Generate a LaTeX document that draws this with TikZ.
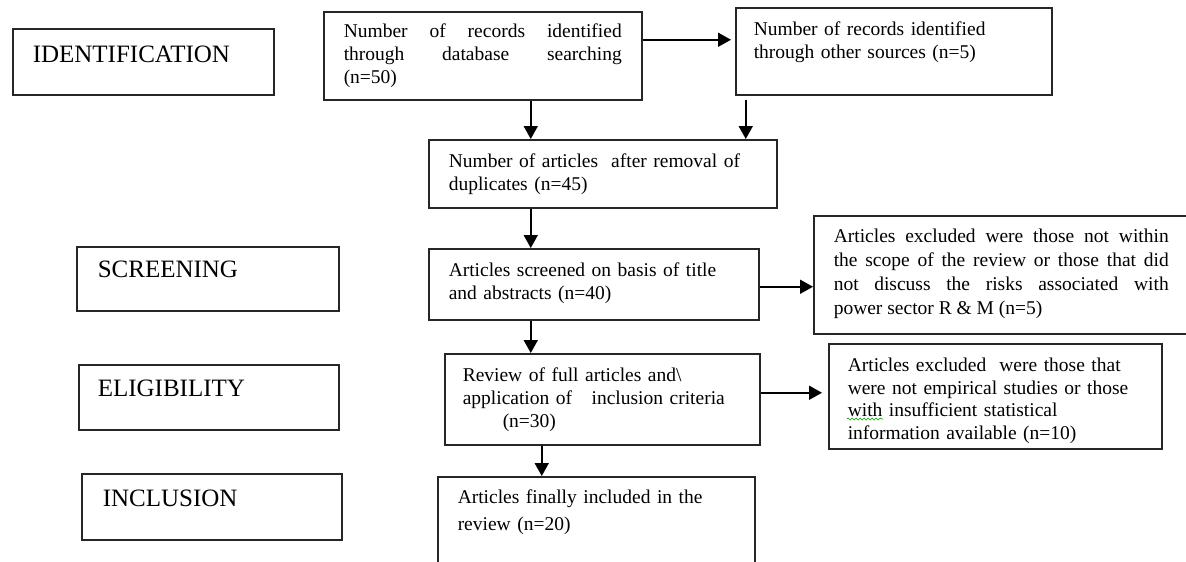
\documentclass[tikz,border=0pt]{standalone}
\usepackage{fontspec}
\setmainfont{Liberation Serif}
\usetikzlibrary{arrows.meta,decorations.pathmorphing}
\newcommand\bodyfont{\fontsize{19.5pt}{23pt}\selectfont}
\newcommand\headfont{\fontsize{25pt}{30pt}\selectfont}
\begin{document}
\begin{tikzpicture}[x=1pt,y=-1pt,
	box/.style={draw=black!85,line width=1.5pt,anchor=north west,inner ysep=0pt,inner xsep=20pt,align=left,font=\bodyfont},
	head/.style={box,font=\headfont},
	arr/.style={line width=1.8pt,-{Triangle[length=13pt,width=14pt]}}]
	\useasboundingbox (0,0) rectangle (1186,562);
	\clip (0,0) rectangle (1186,562);
	\node[head,text width=221pt,text height=34pt,text depth=32pt] (ident) at (12,28) {IDENTIFICATION};
	\node[head,inner xsep=21pt,text width=220pt,text height=31pt,text depth=33pt] (screen) at (76,246) {SCREENING};
	\node[head,inner xsep=19pt,text width=222pt,text height=32pt,text depth=33pt] (elig) at (78,364) {ELIGIBILITY};
	\node[head,inner xsep=21pt,text width=218pt,text height=33pt,text depth=33pt] (incl) at (81,473) {INCLUSION};
	\node[box,align=justify,text width=278pt,text height=26pt,text depth=62pt] (dbase) at (323,11) {Number of records identified\linebreak through database searching\linebreak (n=50)};
	\node[box,inner xsep=18pt,text width=280pt,text height=28pt,text depth=59pt] (other) at (735,7) {Number of records identified\\through other sources (n=5)};
	\node[box,text width=308pt,text height=28pt,text depth=40pt] (dupl) at (428,139) {Number of articles\ \ after removal of\\duplicates (n=45)};
	\node[box,text width=290pt,text height=28pt,text depth=43pt] (screened) at (428,248) {Articles screened on basis of title\\and abstracts (n=40)};
	\node[box,align=justify,text width=335pt,text height=27pt,text depth=91pt,font=\fontsize{19.5pt}{24pt}\selectfont] (excl1) at (813,215) {Articles excluded were those not within\linebreak the scope of the review or those that did\linebreak not discuss the risks associated with\linebreak power sector R \& M (n=5)};
	\node[box,inner xsep=18pt,text width=279pt,text height=28pt,text depth=63pt] (fullrev) at (444,353) {Review of full articles and\textbackslash\\application of\ \ \ inclusion criteria\\\hspace*{40pt}(n=30)};
	\node[box,inner xsep=19pt,text width=295pt,text height=28pt,text depth=77pt,font=\fontsize{19.5pt}{22.5pt}\selectfont] (excl2) at (828,343) {Articles excluded\ \ were those that\\were not empirical studies or those\\with insufficient statistical\\information available (n=10)};
	\node[box,text width=277pt,text height=27pt,text depth=90pt,font=\fontsize{19.5pt}{26.5pt}\selectfont] (final) at (437,476) {Articles finally included in the\\review (n=20)};
	\draw[arr,shorten >=4pt] ([yshift=16pt]dbase.east) -- ([yshift=16pt]dbase.east -| other.west);
	\draw[arr] ([xshift=48pt]dbase.south) -- ([xshift=48pt]dbase.south |- dupl.north);
	\draw[arr,shorten <=4pt] ([xshift=-148pt]other.south) -- ([xshift=-148pt]other.south |- dupl.north);
	\draw[arr] ([xshift=-72pt]dupl.south) -- ([xshift=-72pt]dupl.south |- screened.north);
	\draw[arr] ([yshift=-2.5pt]screened.east) -- ([yshift=-2.5pt]screened.east -| excl1.west);
	\draw[arr] ([xshift=-63pt]screened.south) -- ([xshift=-63pt]screened.south |- fullrev.north);
	\draw[arr,shorten >=6pt] ([yshift=6.5pt]fullrev.east) -- ([yshift=6.5pt]fullrev.east -| excl2.west);
	\draw[arr] ([xshift=-60.5pt]fullrev.south) -- ([xshift=-60.5pt]fullrev.south |- final.north);
	\draw[green!60!black,line width=0.6pt,decorate,decoration={snake,amplitude=1pt,segment length=4pt}] ([shift={(19pt,-76pt)}]excl2.north west) -- ([shift={(55pt,-76pt)}]excl2.north west);
\end{tikzpicture}
\end{document}
